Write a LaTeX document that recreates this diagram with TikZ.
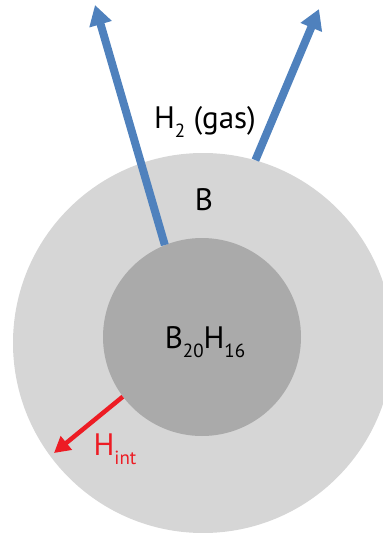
\documentclass[tikz,border=0pt]{standalone}
\usepackage{fontspec}
\setmainfont{PT Sans}
\usetikzlibrary{arrows.meta}

\definecolor{shellgray}{HTML}{D6D6D6}
\definecolor{coregray}{HTML}{AAAAAA}
\definecolor{gasblue}{HTML}{4F81BD}
\definecolor{intred}{HTML}{ED1C24}

\newcommand{\subtxt}[1]{\raisebox{-0.55ex}{\fontsize{19}{21}\selectfont #1}}

\begin{document}
\begin{tikzpicture}[
    x=1pt, y=-1pt,
    every node/.style={font=\fontsize{31}{35}\selectfont},
    ball/.style ={circle, inner sep=0pt, draw=none},
    shell/.style={ball, fill=shellgray, minimum size=380pt},
    core/.style ={ball, fill=coregray, minimum size=198pt},
    gas/.style  ={-{Triangle[length=20pt, width=22pt]}, line width=8pt, draw=gasblue},
    hint/.style ={-{Triangle[length=16pt, width=17pt]}, line width=4.5pt, draw=intred}
  ]
  \useasboundingbox (0,0) rectangle (383,533);
  \clip (0,0) rectangle (383,533);
  \node[shell] (outer) at (203,343) {};
  \node[core]  (inner) at (202,337) {};
  \coordinate (gasL) at (95,5);
  \coordinate (gasR) at (319,9);
  \coordinate (hout) at (54,453);
  \draw[gas]  (inner.112) -- (gasL);
  \draw[gas]  (outer.74)  -- (gasR);
  \draw[hint] (inner.217) -- (hout);
  \node (gaslbl)   at (205,122) {H\subtxt{2} (gas)};
  \node (shelllbl) at (204,200) {B};
  \node (corelbl)  at (205,342) {B\subtxt{20}H\subtxt{16}};
  \node[text=intred] (hintlbl) at (115,449) {H\subtxt{int}};
\end{tikzpicture}
\end{document}
